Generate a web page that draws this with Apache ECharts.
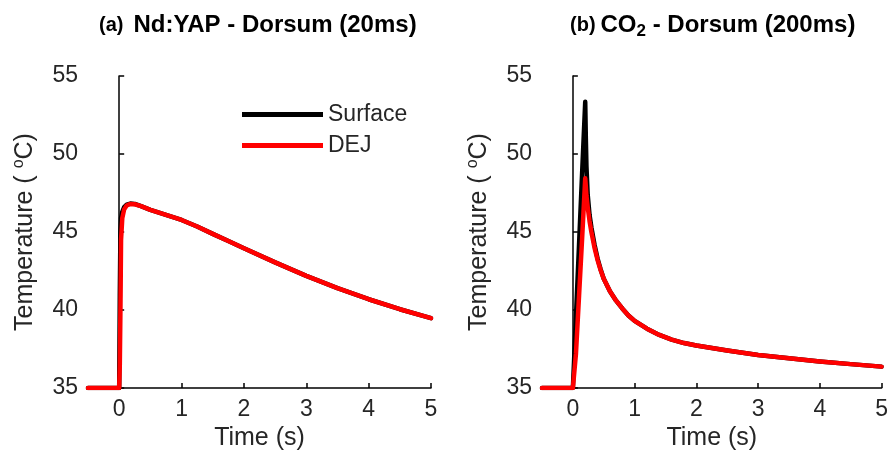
<!DOCTYPE html>
<html>
<head>
<meta charset="utf-8">
<script src="https://cdn.jsdelivr.net/npm/echarts@6/dist/echarts.min.js"></script>
<style>html,body{margin:0;padding:0;background:#fff;}#c{width:891px;height:464px;}</style>
</head>
<body>
<div id="c"></div>
<script>
// Panel (a): Nd:YAP - Dorsum (20ms)
var timeA = [-0.5, 0, 0.01, 0.02, 0.03, 0.05, 0.08, 0.12, 0.18, 0.25, 0.35, 0.5, 0.75, 1, 1.25, 1.5, 1.75, 2, 2.5, 3, 3.5, 4, 4.5, 5];
var surfaceA = [35, 35, 41.0, 45.0, 45.9, 46.3, 46.6, 46.75, 46.82, 46.8, 46.66, 46.42, 46.1, 45.77, 45.35, 44.88, 44.42, 43.96, 43.05, 42.19, 41.4, 40.69, 40.05, 39.48];
var dejA = [35, 35, 36.5, 40.0, 44.5, 45.9, 46.45, 46.7, 46.8, 46.78, 46.66, 46.42, 46.1, 45.77, 45.35, 44.88, 44.42, 43.96, 43.05, 42.19, 41.4, 40.69, 40.05, 39.48];

// Panel (b): CO2 - Dorsum (200ms)
var timeB = [-0.5, 0, 0.02, 0.05, 0.1, 0.15, 0.2, 0.21, 0.22, 0.24, 0.27, 0.3, 0.35, 0.4, 0.45, 0.5, 0.6, 0.7, 0.8, 0.9, 1, 1.2, 1.4, 1.6, 1.8, 2, 2.5, 3, 3.5, 4, 4.5, 5];
var surfaceB = [35, 35, 36.8, 39.6, 44.2, 48.8, 53.35, 51.0, 49.2, 47.4, 46.1, 45.3, 44.2, 43.3, 42.6, 42.0, 41.2, 40.6, 40.1, 39.65, 39.3, 38.8, 38.4, 38.1, 37.88, 37.72, 37.4, 37.12, 36.9, 36.7, 36.53, 36.37];
var dejB = [35, 35, 35, 37.2, 40.9, 44.6, 48.44, 47.9, 47.3, 46.6, 45.7, 45.0, 44.0, 43.2, 42.55, 42.0, 41.2, 40.6, 40.1, 39.65, 39.3, 38.8, 38.4, 38.1, 37.88, 37.72, 37.4, 37.12, 36.9, 36.7, 36.53, 36.37];

var xTicks = [0, 1, 2, 3, 4, 5];
var yMin = 35, yMax = 55, yStep = 5;
var xMin = -0.5, xMax = 5;
var seriesNames = ['Surface', 'DEJ'];
var colors = ['#000000', '#ff0000'];

function pairs(t, v) { return t.map(function (x, i) { return [x, v[i]]; }); }

var FONT = "'Liberation Sans', Arial, sans-serif";

function xAxisFor(idx) {
  return {
    type: 'value', gridIndex: idx, min: xMin, max: xMax,
    name: 'Time (s)', nameLocation: 'middle', nameGap: 38,
    nameTextStyle: { fontFamily: FONT, fontSize: 25, color: '#262626' },
    axisLine: { show: true, onZero: false, lineStyle: { color: '#000', width: 1.5 } },
    axisTick: { show: true, inside: true, length: 5, customValues: xTicks, lineStyle: { color: '#000', width: 1.5 } },
    axisLabel: { customValues: xTicks, margin: 10, fontFamily: FONT, fontSize: 23, color: '#262626' },
    splitLine: { show: false }
  };
}
function yAxisFor(idx) {
  return {
    type: 'value', gridIndex: idx, min: yMin, max: yMax, interval: yStep,
    name: 'Temperature ( {sup|o}C)', nameLocation: 'middle', nameRotate: 90, nameGap: 48,
    nameTextStyle: {
      fontFamily: FONT, fontSize: 25, color: '#262626',
      rich: { sup: { fontFamily: FONT, fontSize: 16, color: '#262626', verticalAlign: 'top', lineHeight: 29 } }
    },
    axisLine: { show: true, lineStyle: { color: '#000', width: 1.5 } },
    axisTick: { show: true, inside: true, length: 5, lineStyle: { color: '#000', width: 1.5 } },
    axisLabel: { margin: 10, fontFamily: FONT, fontSize: 23, color: '#262626' },
    splitLine: { show: false }
  };
}
function lineSeries(name, color, data, idx, z) {
  return {
    type: 'line', name: name, xAxisIndex: idx, yAxisIndex: idx, data: data,
    showSymbol: false, symbol: 'none', smooth: false, z: z,
    lineStyle: { color: color, width: 4.5, join: 'round', cap: 'round' }, itemStyle: { color: color },
    animation: false
  };
}

var chart = echarts.init(document.getElementById('c'));
chart.setOption({
  backgroundColor: '#ffffff',
  animation: false,
  title: [
    {
      left: 94, top: 5,
      text: '{a|(a)}  {b|Nd:YAP - Dorsum (20ms)}',
      textStyle: { rich: {
        a: { fontFamily: FONT, fontSize: 20, fontWeight: 'bold', color: '#000', lineHeight: 30 },
        b: { fontFamily: FONT, fontSize: 24, fontWeight: 'bold', color: '#000', lineHeight: 30 }
      } }
    },
    {
      left: 565, top: 5,
      text: '{a|(b)} {b|CO}{s|2}{b| - Dorsum (200ms)}',
      textStyle: { rich: {
        a: { fontFamily: FONT, fontSize: 20, fontWeight: 'bold', color: '#000', lineHeight: 30 },
        b: { fontFamily: FONT, fontSize: 24, fontWeight: 'bold', color: '#000', lineHeight: 30 },
        s: { fontFamily: FONT, fontSize: 17, fontWeight: 'bold', color: '#000', lineHeight: 13, verticalAlign: 'bottom' }
      } }
    }
  ],
  legend: {
    data: seriesNames, orient: 'vertical', left: 242, top: 103, itemGap: 8, padding: 0,
    icon: 'rect', itemWidth: 81, itemHeight: 5,
    textStyle: { fontFamily: FONT, fontSize: 23, color: '#262626' },
    selectedMode: false
  },
  grid: [
    { left: 88, top: 76, width: 343, height: 312 },
    { left: 542, top: 76, width: 345, height: 312 }
  ],
  xAxis: [xAxisFor(0), xAxisFor(1)],
  yAxis: [yAxisFor(0), yAxisFor(1)],
  series: [
    lineSeries(seriesNames[0], colors[0], pairs(timeA, surfaceA), 0, 2),
    lineSeries(seriesNames[1], colors[1], pairs(timeA, dejA), 0, 3),
    lineSeries(seriesNames[0], colors[0], pairs(timeB, surfaceB), 1, 2),
    lineSeries(seriesNames[1], colors[1], pairs(timeB, dejB), 1, 3)
  ]
});
</script>
</body>
</html>
